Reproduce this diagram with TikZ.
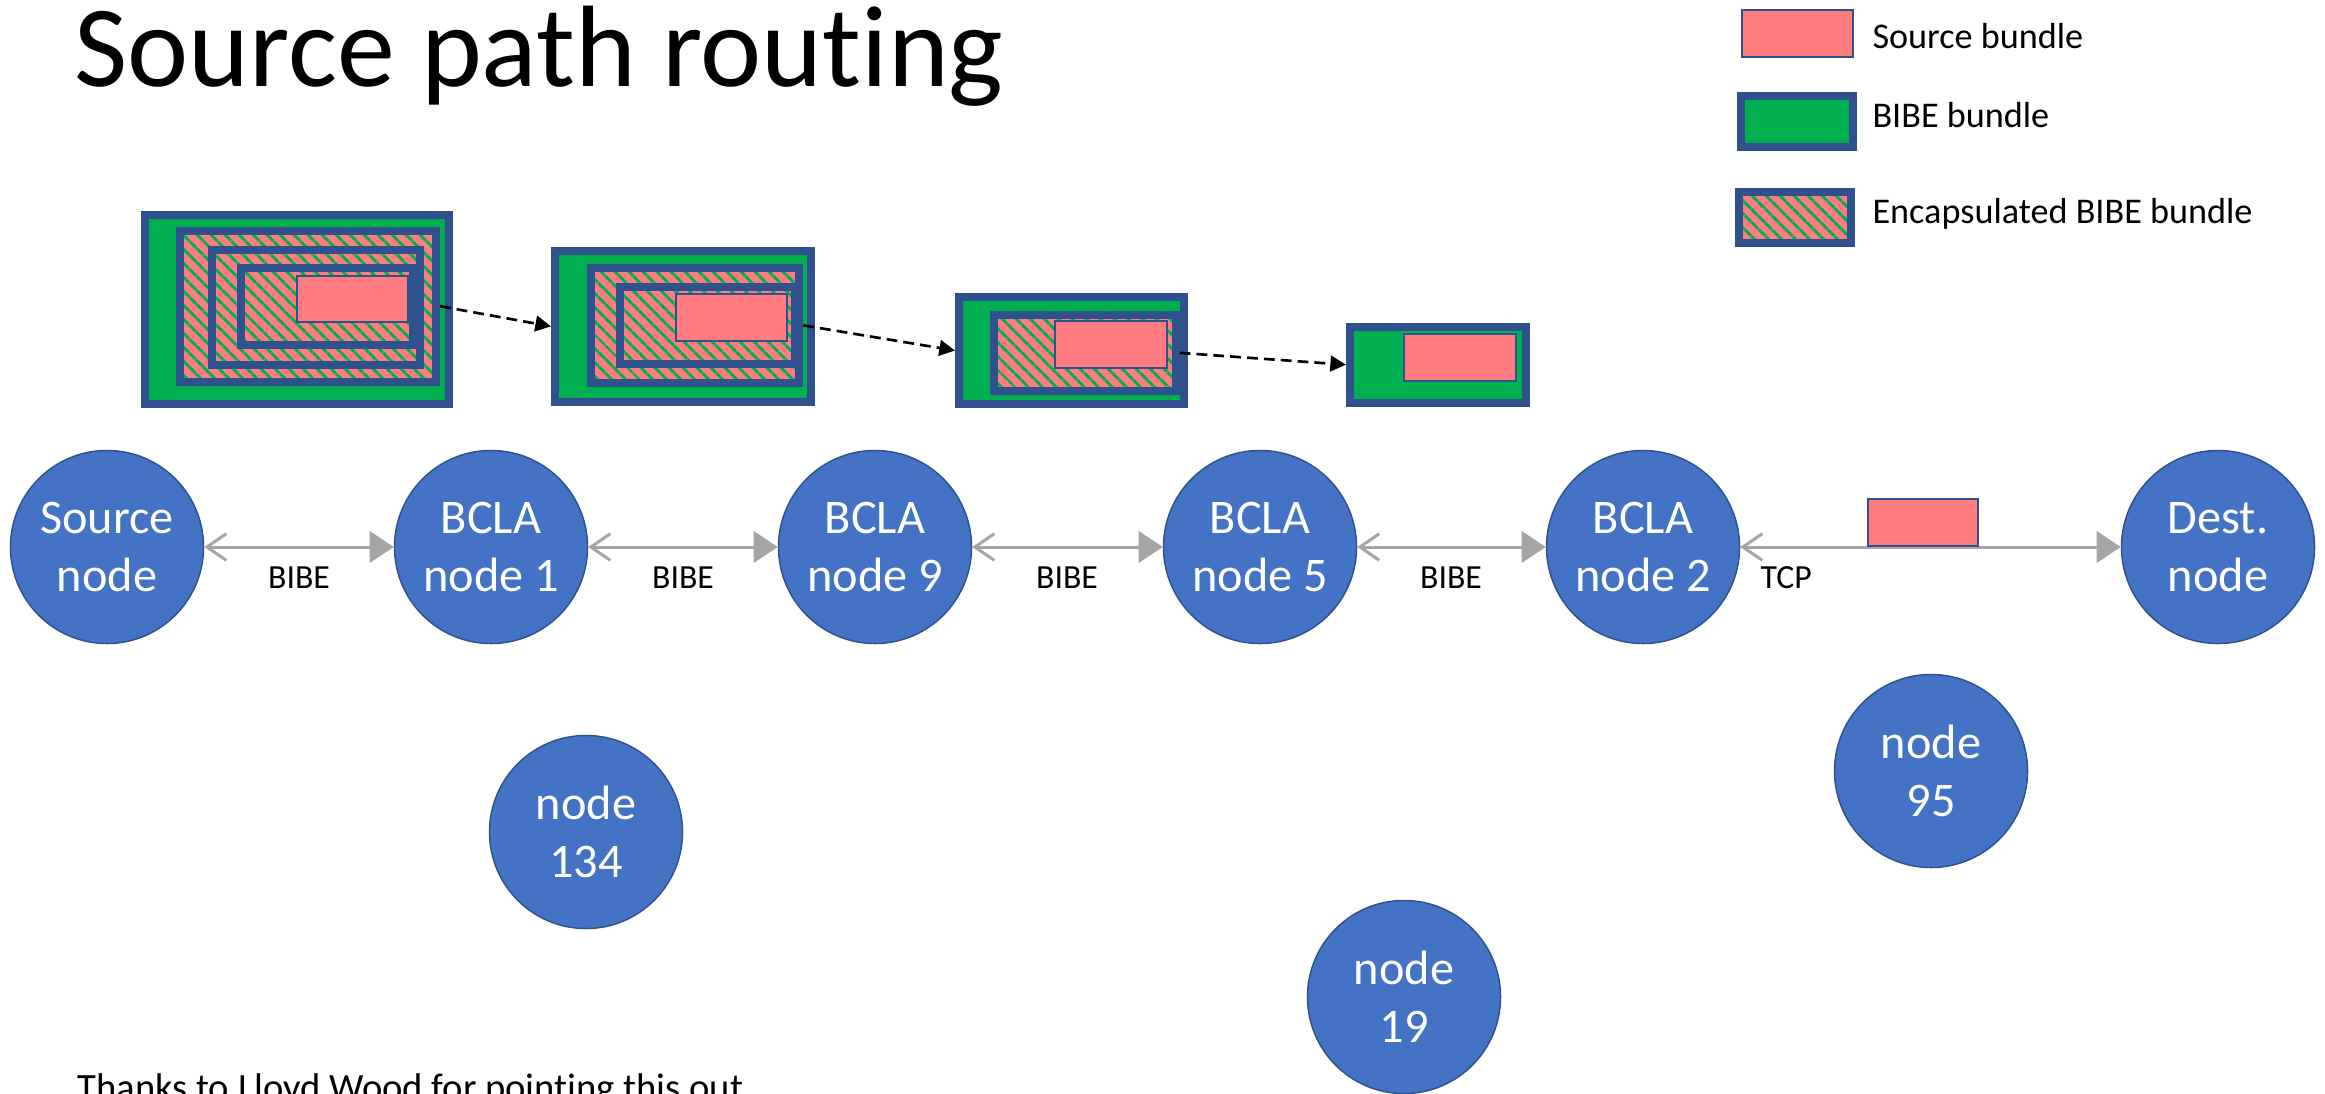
\documentclass[tikz,border=0pt]{standalone}
\usepackage{fontspec}
\setmainfont[Ligatures=NoCommon]{Carlito}
\usetikzlibrary{arrows.meta,fit,patterns.meta}

\definecolor{nodeblue}{HTML}{4472C4}
\definecolor{nodeedge}{HTML}{2F528F}
\definecolor{bundleblue}{HTML}{2F528F}
\definecolor{bundlegreen}{HTML}{00B050}
\definecolor{bundlepink}{HTML}{FF7C80}
\definecolor{linkgray}{HTML}{A5A5A5}

\tikzset{
	net/.style={circle, draw=nodeedge, fill=nodeblue, line width=0.6pt, minimum size=80pt,
		inner sep=0pt, align=center, text=white, font=\fontsize{20}{24}\selectfont},
	bibe/.style={draw=bundleblue, fill=bundlegreen, line width=3.3pt, inner sep=0pt},
	encap/.style={draw=bundleblue, line width=3.3pt, inner sep=0pt, preaction={fill=bundlepink},
		pattern={Lines[angle=-45, distance=4pt, line width=1.3pt]}, pattern color=bundlegreen},
	srcb/.style={draw=bundleblue, fill=bundlepink, line width=0.9pt, inner sep=0pt},
	link/.style={linkgray, line width=1.25pt,
		{Straight Barb[length=8pt, width=11pt]}-{Triangle[length=10pt, width=13pt]}},
	hop/.style={black, line width=1.1pt, dash pattern=on 4.5pt off 2.5pt,
		-{Triangle[length=6.5pt, width=6.5pt]}},
	lbl/.style={inner sep=0pt, font=\fontsize{14}{16}\selectfont},
	key/.style={inner sep=0pt, font=\fontsize{15}{18}\selectfont}
}

\begin{document}
\begin{tikzpicture}[x=0.41433pt, y=-0.41433pt]
	\path[use as bounding box, fill=white] (0,0) rectangle (2325,1093);
	
	\node[anchor=base west, inner sep=0pt, font=\fontsize{48}{58}\selectfont] (title) at (74,86) {Source path routing};
	
	% legend
	\node[srcb, fit={(1742,10) (1853,57)}] (keysrc) {};
	\node[key, anchor=base west] (keysrctext) at (1872,48) {Source bundle};
	\node[bibe, fit={(1741,96) (1853,147)}] (keybibe) {};
	\node[key, anchor=base west] (keybibetext) at (1872,127) {BIBE bundle};
	\node[encap, fit={(1739,192) (1851,243)}] (keyencap) {};
	\node[key, anchor=base west] (keyencaptext) at (1872,223) {Encapsulated BIBE bundle};
	
	% bundle leaving the source node
	\node[bibe, fit={(145,215) (449,404)}] (b1) {};
	\node[encap, fit={(180,230.7) (436,381.7)}] (e1a) {};
	\node[encap, fit={(211.7,249.7) (420,365.3)}] (e1b) {};
	\node[encap, fit={(240.7,268.3) (413.3,345)}] (e1c) {};
	\node[srcb, fit={(296.7,276) (408,322.3)}] (s1) {};
	
	% after BCLA node 1
	\node[bibe, fit={(555,250.7) (811,402)}] (b2) {};
	\node[encap, fit={(590.7,268) (799.3,382.7)}] (e2a) {};
	\node[encap, fit={(619.7,287.3) (795.3,363.7)}] (e2b) {};
	\node[srcb, fit={(676,294.3) (787.3,340.7)}] (s2) {};
	
	% after BCLA node 9
	\node[bibe, fit={(959,296.7) (1183.6,404.3)}] (b3) {};
	\node[encap, fit={(994,314.7) (1175.6,391)}] (e3a) {};
	\node[srcb, fit={(1055,321) (1166.7,368.3)}] (s3) {};
	
	% after BCLA node 5
	\node[bibe, fit={(1350,326.7) (1525.6,402.7)}] (b4) {};
	\node[srcb, fit={(1404,334.3) (1515.6,381.3)}] (s4) {};
	
	\draw[hop] (e1a.east) -- (b2.west);
	\draw[hop] (e2a.east) -- (b3.west);
	\draw[hop] (e3a.east) -- (b4.west);
	
	% path nodes
	\node[net] (src) at (107,547) {Source\\node};
	\node[net] (bcla1) at (491,547) {BCLA\\node 1};
	\node[net] (bcla9) at (875,547) {BCLA\\node 9};
	\node[net] (bcla5) at (1260,547) {BCLA\\node 5};
	\node[net] (bcla2) at (1643,547) {BCLA\\node 2};
	\node[net] (dest) at (2218,547) {Dest.\\node};
	
	% other nodes
	\node[net] (n134) at (586,832) {node\\134};
	\node[net] (n19) at (1404,997) {node\\19};
	\node[net] (n95) at (1931,771) {node\\95};
	
	\draw[link] (src) -- (bcla1);
	\draw[link] (bcla1) -- (bcla9);
	\draw[link] (bcla9) -- (bcla5);
	\draw[link] (bcla5) -- (bcla2);
	\draw[link] (bcla2) -- (dest);
	
	\node[lbl, anchor=base] (hop1) at (299,588) {BIBE};
	\node[lbl, anchor=base] (hop2) at (683,588) {BIBE};
	\node[lbl, anchor=base] (hop3) at (1067,588) {BIBE};
	\node[lbl, anchor=base] (hop4) at (1451,588) {BIBE};
	\node[lbl, anchor=base west] (hop5) at (1760,588) {TCP};
	
	\node[srcb, fit={(1867.6,499) (1978,546)}] (pkt) {};
	
	\node[anchor=base west, inner sep=0pt, font=\fontsize{16}{19}\selectfont] (thanks) at (77,1100) {Thanks to Lloyd Wood for pointing this out};
\end{tikzpicture}
\end{document}
